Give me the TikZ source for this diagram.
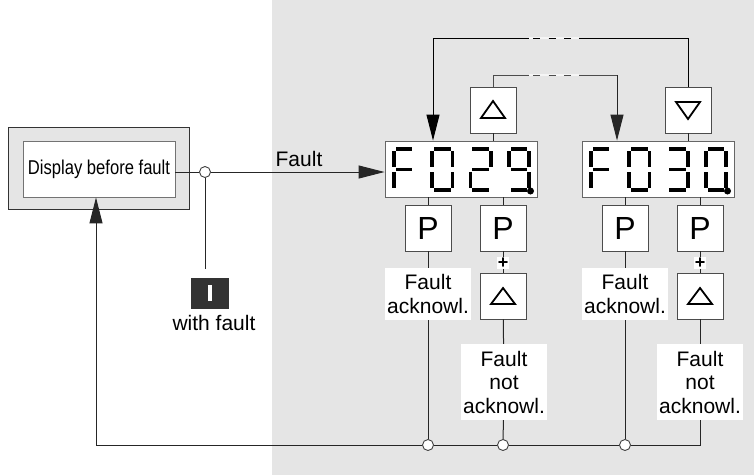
\documentclass[tikz,border=0pt]{standalone}
\usepackage{fontspec}
\setmainfont{Liberation Sans}
\usepackage{graphicx}
\usetikzlibrary{arrows.meta}

\pgfkeys{/seg/.cd,
 a/.code={\fill (3.6,0) rectangle (20.4,3.8);},
 b/.code={\fill (20.2,3.6) rectangle (24,20);},
 c/.code={\fill (20.2,25) rectangle (24,40.5);},
 d/.code={\fill (3.6,41.2) rectangle (20.4,45);},
 e/.code={\fill (0,25) rectangle (3.8,40.5);},
 f/.code={\fill (0,3.6) rectangle (3.8,20);},
 g/.code={\fill (3.6,20.5) rectangle (20.4,24.3);}}
\newcommand\segdigit[3]{\begin{scope}[shift={(#1,#2)}]\foreach \s in {#3}{\pgfkeys{/seg/\s}}\end{scope}}

\begin{document}
\begin{tikzpicture}[x=1pt,y=-1pt,
 conn/.style={line width=1pt, draw=black!85},
 key/.style={draw=black!70, line width=0.9pt, fill=white, minimum width=46pt, minimum height=46pt, inner sep=0pt},
 pkey/.style={key, font=\fontsize{32}{32}\selectfont},
 lbl/.style={fill=white, inner sep=0pt, align=center, minimum width=86pt, font=\fontsize{21}{23.5}\selectfont},
 junc/.style={circle, draw=black!75, line width=0.9pt, fill=white, minimum size=11pt, inner sep=0pt},
 disp/.style={draw=black!60, line width=0.9pt, fill=white, minimum width=152pt, minimum height=56pt, inner sep=0pt},
 tri/.style={line width=1.8pt, line join=miter, draw=black},
 arr/.style={-{Triangle[length=26pt,width=13pt]}},
 txt/.style={font=\fontsize{21}{21}\selectfont, inner sep=0pt}]

\useasboundingbox (0,0) rectangle (754,475);
\fill[gray!20] (272,0) rectangle (754,475);

% left display
\node[draw=black!80, line width=1pt, fill=gray!20, minimum width=181pt, minimum height=82pt, inner sep=0pt] (outer) at (98.5,168) {};
\node[draw=black!55, line width=0.9pt, fill=white, minimum width=152pt, minimum height=56pt, inner sep=0pt, font=\fontsize{20}{20}\selectfont] (inner) at (99,169) {\scalebox{0.83}[1]{Display before fault}};

\node[junc] (j0) at (205,172) {};
\node[fill=black!80, minimum width=38pt, minimum height=31pt, inner sep=0pt] (ibox) at (210,293) {\textcolor{white}{\rule{4pt}{16pt}}};
\node[txt] (wf) at (214,323) {with fault};
\coordinate (iend) at (205,269);
\node[txt] (flt) at (299,159) {Fault};

% displays
\node[disp] (d1) at (461,169) {};
\node[disp] (d2) at (658,169) {};

% top keys
\node[key] (upA) at (493,110) {};
\node[key] (dnA) at (688,110) {};
\draw[tri] ([shift={(-12,8)}]upA.center) -- ([shift={(12,8)}]upA.center) -- ([shift={(0,-9)}]upA.center) -- cycle;
\draw[tri] ([shift={(-12,-8)}]dnA.center) -- ([shift={(12,-8)}]dnA.center) -- ([shift={(0,9)}]dnA.center) -- cycle;

% P keys
\node[pkey] (p1) at (428,228) {P};
\node[pkey] (p2) at (503,228) {P};
\node[pkey] (p3) at (625,228) {P};
\node[pkey] (p4) at (700,228) {P};

% lower up keys
\node[key] (u2) at (503,296) {};
\node[key] (u4) at (700,296) {};
\draw[tri] ([shift={(-12,8)}]u2.center) -- ([shift={(12,8)}]u2.center) -- ([shift={(0,-8)}]u2.center) -- cycle;
\draw[tri] ([shift={(-12,8)}]u4.center) -- ([shift={(12,8)}]u4.center) -- ([shift={(0,-8)}]u4.center) -- cycle;

% labels
\node[lbl, minimum height=52pt] (ack1) at (428,294) {Fault\\acknowl.};
\node[lbl, minimum height=52pt] (ack2) at (625,294) {Fault\\acknowl.};
\node[lbl, minimum height=76pt] (nack1) at (504,382) {Fault\\not\\acknowl.};
\node[lbl, minimum height=76pt] (nack2) at (700,382) {Fault\\not\\acknowl.};

% corners
\coordinate (cR) at (700,445);
\coordinate (cL) at (96,445);

% connectors
\draw[conn] (inner.east |- j0) -- (j0);
\draw[conn,arr] (j0) -- (j0 -| d1.west);
\draw[conn] (j0) -- (iend);

\draw[conn] (p1.north) -- (p1.north |- d1.south);
\draw[conn] (p1) -- (ack1);
\draw[conn] (p2.north) -- (p2.north |- d1.south);
\draw[conn] (p2) -- (u2);
\draw[conn] (u2) -- (nack1);
\draw[conn] (p3.north) -- (p3.north |- d2.south);
\draw[conn] (p3) -- (ack2);
\draw[conn] (p4.north) -- (p4.north |- d2.south);
\draw[conn] (p4) -- (u4);
\draw[conn] (u4) -- (nack2);

\node[junc] (j1) at (428,445) {};
\node[junc] (j2) at (503,445) {};
\node[junc] (j3) at (625,445) {};
\draw[conn] (ack1) -- (j1);
\draw[conn] (nack1) -- (j2);
\draw[conn] (ack2) -- (j3);
\draw[conn] (nack2) -- (cR) -- (j3);
\draw[conn] (j3) -- (j2);
\draw[conn] (j2) -- (j1);
\draw[conn,arr] (j1) -- (cL) -- (cL |- inner.south);

\node[fill=white, inner sep=1pt, font=\fontsize{18}{18}\selectfont\bfseries] (pl2) at (503,263) {+};
\node[fill=white, inner sep=1pt, font=\fontsize{18}{18}\selectfont\bfseries] (pl4) at (700,263) {+};

% top loops
\coordinate (tl) at (433,38);
\coordinate (tr) at (617,75);
\draw[conn, draw=black] (dnA.north) |- (tl);
\draw[conn, draw=black, arr] (tl) -- (tl |- d1.north);
\draw[conn, draw=black!70] (upA.north) |- (tr);
\draw[conn, draw=black!85, arr] (tr) -- (tr |- d2.north);
\draw[conn] (upA.south) -- (upA.south |- d1.north);
\draw[conn] (dnA.south) -- (dnA.south |- d2.north);

% breaks in loops
\draw[line width=1.6pt, gray!8] (529,38) -- (579,38);
\draw[line width=1pt, black, dash pattern=on 7pt off 8.5pt] (533,38) -- (571,38);
\draw[line width=1.6pt, gray!8] (529,75) -- (579,75);
\draw[line width=1pt, black!70, dash pattern=on 7pt off 8.5pt] (533,75) -- (571,75);

% digits
\segdigit{392}{147}{a,e,f,g}
\segdigit{430.3}{147}{a,b,c,d,e,f}
\segdigit{468.6}{147}{a,b,g,e,d}
\segdigit{507}{147}{a,b,c,d,f,g}
\fill (530.5,191) circle (3.5);
\segdigit{589}{147}{a,e,f,g}
\segdigit{627.3}{147}{a,b,c,d,e,f}
\segdigit{665.6}{147}{a,b,c,d,g}
\segdigit{704}{147}{a,b,c,d,e,f}
\fill (727.5,191) circle (3.5);
\end{tikzpicture}
\end{document}
